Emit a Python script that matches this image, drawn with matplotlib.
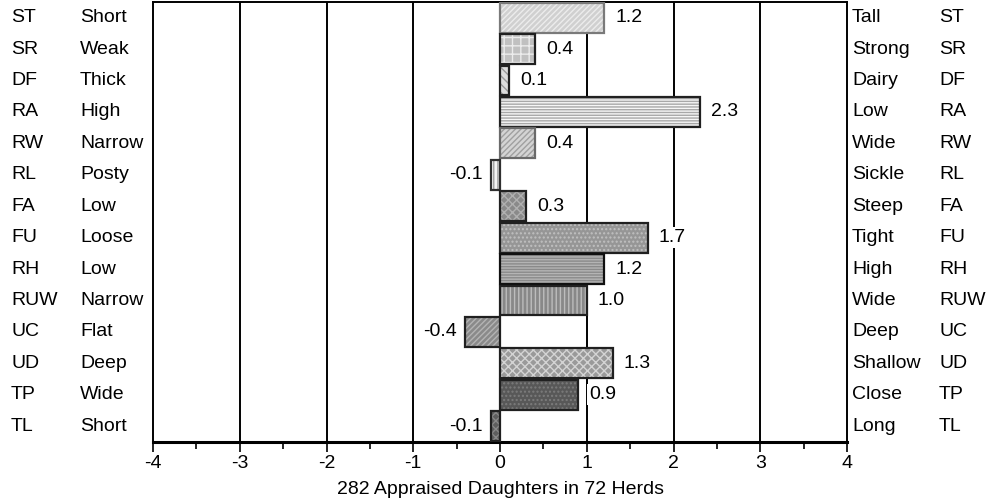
import matplotlib
matplotlib.use("Agg")
import matplotlib.pyplot as plt
import numpy as np

plt.rcParams["font.family"] = ["Liberation Sans", "DejaVu Sans"]
plt.rcParams["axes.unicode_minus"] = False
plt.rcParams["hatch.linewidth"] = 1.0

# trait codes, low-end and high-end descriptors, and breeding values
codes = ["ST", "SR", "DF", "RA", "RW", "RL", "FA", "FU", "RH", "RUW", "UC", "UD", "TP", "TL"]
low_words = ["Short", "Weak", "Thick", "High", "Narrow", "Posty", "Low", "Loose",
             "Low", "Narrow", "Flat", "Deep", "Wide", "Short"]
high_words = ["Tall", "Strong", "Dairy", "Low", "Wide", "Sickle", "Steep", "Tight",
              "High", "Wide", "Deep", "Shallow", "Close", "Long"]
values = [1.2, 0.4, 0.1, 2.3, 0.4, -0.1, 0.3, 1.7, 1.2, 1.0, -0.4, 1.3, 0.9, -0.1]

# fill, hatch colour, hatch pattern, outline per bar
fills = ["#d0d0d0", "#c0c0c0", "#dcdcdc", "#f6f6f6", "#d4d4d4", "#f4f4f4", "#8a8a8a",
         "#969696", "#8a8a8a", "#888888", "#8a8a8a", "#9a9a9a", "#585858", "#5e5e5e"]
hatch_colors = ["#ececec", "#ececec", "#9a9a9a", "#a8a8a8", "#a0a0a0", "#a0a0a0", "#b0b0b0",
                "#c0c0c0", "#b4b4b4", "#bcbcbc", "#b4b4b4", "#d4d4d4", "#7c7c7c", "#888888"]
hatches = ["//////", "++", "\\\\\\\\", "------", "//////", "||||", "xxxx",
           "....", "------", "||||", "//////", "xxxx", "....", "xxxx"]
outlines = ["#7a7a7a", "#202020", "#202020", "#202020", "#6a6a6a", "#303030", "#202020",
            "#202020", "#101010", "#202020", "#202020", "#202020", "#202020", "#202020"]

fs = 14

fig = plt.figure(figsize=(9.95, 4.99), dpi=100)
ax = fig.add_axes([0.1538, 0.1142, 0.6975, 0.882])

n = len(codes)
y = np.arange(n)

for x in range(-3, 4):
    ax.axvline(x, color="black", lw=1.4, zorder=1)

ax.barh(y, values, height=0.95, color=fills, edgecolor=hatch_colors, hatch=hatches,
        linewidth=0, zorder=2)
ax.barh(y, values, height=0.95, fill=False, edgecolor=outlines, linewidth=1.6, zorder=3)

for yi, v in zip(y, values):
    off = 8 if v >= 0 else -6
    ax.annotate(f"{v:.1f}", xy=(v, yi), xytext=(off, 0), textcoords="offset points",
                ha="left" if v >= 0 else "right", va="center", fontsize=fs,
                bbox=dict(facecolor="white", edgecolor="none", pad=1.5), zorder=4)

ax.set_xlim(-4, 4)
ax.set_ylim(n - 0.5, -0.5)
ax.set_xticks(range(-4, 5))
ax.set_xticks(np.arange(-3.5, 4, 1.0), minor=True)
ax.tick_params(axis="x", which="major", direction="out", length=7, width=1.2,
               labelsize=fs, pad=2)
ax.tick_params(axis="x", which="minor", direction="out", length=5, width=1.2)
ax.set_yticks([])
ax.set_xlabel("282 Appraised Daughters in 72 Herds", fontsize=fs, labelpad=7)

for s in ax.spines.values():
    s.set_linewidth(1.4)
ax.spines["bottom"].set_linewidth(2.2)

# left and right descriptor columns
tr = ax.get_yaxis_transform()
for yi in y:
    ax.text(-0.2046, yi, codes[yi], transform=tr, ha="left", va="center", fontsize=fs)
    ax.text(-0.1052, yi, low_words[yi], transform=tr, ha="left", va="center", fontsize=fs)
    ax.text(1.0072, yi, high_words[yi], transform=tr, ha="left", va="center", fontsize=fs)
    ax.text(1.1326, yi, codes[yi], transform=tr, ha="left", va="center", fontsize=fs)

fig.savefig("out.png", dpi=100)
